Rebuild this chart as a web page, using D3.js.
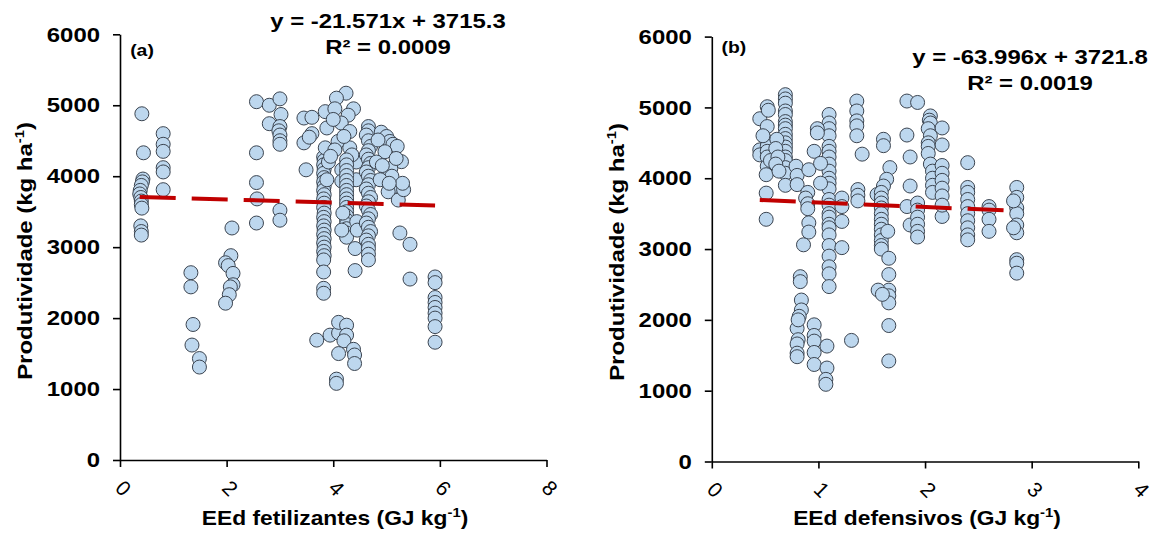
<!DOCTYPE html>
<html>
<head>
<meta charset="utf-8">
<script src="https://cdn.jsdelivr.net/npm/d3@7"></script>
<style>
body { margin: 0; background: #fff; }
svg text { font-family: Arial, "Liberation Sans", sans-serif; fill: #000; }
</style>
</head>
<body>
<svg id="chart" width="1155" height="537"></svg>
<script>
// y ticks shared by both panels
const yTicks = [0, 1000, 2000, 3000, 4000, 5000, 6000];
const fertTicks = [0, 2, 4, 6, 8];
const defTicks = [0, 1, 2, 3, 4];

// (a) EEd fertilizantes vs produtividade, [x, y]
const fertPoints = [
  [0.41,4880],[0.44,4330],[0.43,3960],[0.42,3920],[0.40,3870],[0.38,3800],[0.37,3750],[0.39,3700],
  [0.40,3650],[0.40,3600],[0.41,3550],[0.39,3300],[0.40,3220],[0.40,3170],
  [0.81,4600],[0.81,4450],[0.81,4350],[0.81,4120],[0.81,4060],[0.81,3810],
  [1.33,2640],[1.33,2440],[1.37,1910],[1.35,1620],[1.49,1430],[1.49,1310],
  [2.10,3270],[2.08,2880],[1.98,2780],[2.03,2740],[2.12,2630],[2.12,2470],[2.07,2440],[2.05,2330],[1.98,2210],
  [2.56,5050],[2.56,4330],[2.56,3910],[2.57,3680],[2.56,3340],[2.80,5000],[2.80,4740],
  [3.00,5090],[3.02,4870],[3.00,4700],[2.98,4640],[3.00,4580],[3.00,4500],[3.00,4450],[3.00,3520],[3.00,3380],
  [3.45,4820],[3.60,4830],[3.45,4470],[3.60,4600],[3.49,4090],[3.55,4550],
  [3.82,4270],[3.83,4220],[3.82,4160],[3.83,4100],[3.82,4040],[3.83,3980],[3.82,3920],[3.83,3860],
  [3.82,3800],[3.83,3740],[3.82,3680],[3.83,3620],[3.82,3560],[3.83,3480],[3.82,3420],[3.83,3360],
  [3.82,3300],[3.83,3240],[3.82,3180],[3.83,3120],[3.82,3060],[3.83,3000],[3.82,2940],[3.83,2880],
  [3.82,2820],[3.82,2650],[3.82,2420],[3.82,2350],
  [4.24,5170],[4.06,5100],[4.38,4950],[3.85,4910],[4.03,4950],[4.28,4860],[4.15,4750],[3.88,4680],
  [4.31,4630],[4.09,4490],[3.85,4400],[4.31,4400],[4.03,4370],[4.43,4200],[3.91,4200],[4.16,4090],
  [3.88,3950],[4.16,3930],[4.43,3950],[4.00,4800],[4.20,4560],[3.95,4280],[4.35,4300],
  [4.25,4230],[4.25,4160],[4.25,4080],[4.25,4010],[4.25,3940],[4.25,3870],[4.25,3800],[4.25,3740],
  [4.25,3680],[4.25,3620],[4.25,3560],[4.25,3500],[4.25,3440],[4.25,3380],[4.25,3320],[4.25,3260],
  [4.25,3200],[4.25,3140],[4.18,3480],[4.16,3240],
  [4.44,3360],[4.41,2980],[4.41,2670],[4.45,3240],
  [4.66,4700],[4.66,4640],[4.62,4580],[4.66,4500],[4.70,4420],[4.66,4360],[4.62,4300],[4.66,4240],
  [4.70,4180],[4.66,4120],[4.62,4060],[4.66,4000],[4.70,3940],[4.66,3880],[4.62,3820],[4.66,3760],
  [4.70,3700],[4.66,3640],[4.62,3580],[4.66,3520],[4.70,3460],[4.66,3400],[4.62,3340],[4.66,3280],
  [4.70,3220],[4.66,3160],[4.62,3100],[4.66,3040],[4.66,2980],[4.66,2900],[4.66,2820],
  [4.90,4620],[5.00,4560],[5.06,4490],[4.84,4510],[5.12,4450],[5.20,4420],[4.97,4345],[5.28,4205],
  [4.81,4200],[5.08,4110],[4.97,3993],[5.25,3852],[5.13,3852],[5.03,3780],[5.22,3664],[5.32,3810],
  [5.18,4250],[4.92,4150],[5.10,4000],[5.30,3900],[4.88,3950],[5.05,3900],
  [5.25,3200],[5.44,3040],[5.44,2550],
  [5.91,2580],[5.91,2500],[5.91,2290],[5.91,2220],[5.91,2150],[5.91,2070],[5.91,2000],[5.91,1880],[5.91,1660],
  [3.69,1690],[3.94,1760],[4.10,1790],[4.10,1940],[4.25,1900],[4.25,1760],[4.20,1680],[4.10,1500],
  [4.38,1560],[4.40,1480],[4.40,1360],[4.06,1140],[4.06,1080]
];

// (b) EEd defensivos vs produtividade, [x, y]
const defPoints = [
  [0.45,4840],[0.52,5010],[0.53,4960],[0.52,4730],[0.45,4400],[0.45,4330],[0.52,4520],[0.52,4450],
  [0.52,4380],[0.52,4300],[0.52,4170],[0.51,4050],[0.51,3790],[0.51,3420],[0.55,4250],[0.48,4600],
  [0.69,5180],[0.69,5120],[0.69,5060],[0.69,4950],[0.69,4900],[0.69,4800],[0.69,4750],[0.69,4700],
  [0.69,4620],[0.69,4560],[0.69,4500],[0.69,4440],[0.69,4380],[0.69,4300],[0.69,4250],[0.69,4150],
  [0.69,4070],[0.69,3900],
  [0.61,4550],[0.60,4420],[0.62,4300],[0.60,4200],[0.63,4100],
  [0.79,4170],[0.80,4040],[0.80,3910],[0.91,4120],[0.90,3800],[0.88,3720],[0.90,3640],[0.90,3570],
  [0.91,3370],[0.91,3240],[0.86,3060],
  [0.83,2610],[0.83,2540],[0.84,2280],[0.84,2140],[0.80,1880],[0.81,1720],[0.80,1660],[0.80,1530],
  [0.80,1480],[0.82,2050],[0.81,2000],
  [0.96,1930],[0.96,1780],[0.96,1700],[0.96,1540],[0.96,1370],
  [1.08,1630],[1.08,1320],[1.07,1160],[1.07,1090],
  [1.10,4900],[1.10,4780],[1.10,4700],[1.10,4600],[1.10,4450],[1.10,4380],[1.10,4300],[1.10,4200],
  [1.10,4100],[1.10,4000],[1.10,3930],[1.10,3850],[1.10,3700],[1.10,3620],[1.10,3500],[1.10,3450],
  [1.10,3350],[1.10,3300],[1.10,3200],[1.10,3050],[1.10,2900],[1.10,2750],[1.10,2650],[1.10,2470],
  [0.99,4700],[0.99,4640],[0.96,4380],[1.02,4210],[1.02,3930],
  [1.22,3720],[1.22,3390],[1.22,3020],[1.22,3600],
  [1.36,5090],[1.36,4950],[1.36,4810],[1.36,4740],[1.36,4600],[1.41,4340],[1.37,3840],[1.37,3760],[1.37,3680],
  [1.31,1710],
  [1.61,4550],[1.61,4460],[1.67,4150],[1.64,3985],[1.61,3890],[1.55,3770],
  [1.59,3800],[1.59,3720],[1.59,3650],[1.59,3580],[1.59,3500],[1.59,3420],[1.59,3350],[1.59,3280],
  [1.59,3200],[1.59,3120],[1.59,3050],[1.59,3000],
  [1.65,3250],[1.66,2870],[1.66,2640],[1.66,2420],[1.66,2340],[1.66,2240],[1.56,2420],[1.60,2360],
  [1.66,1920],[1.66,1420],
  [1.83,5090],[1.93,5070],[1.83,4610],[1.86,4300],[1.86,3890],[1.83,3600],[1.86,3340],[1.93,3650],
  [1.93,3550],[1.93,3450],[1.93,3350],[1.93,3250],[1.93,3170],
  [2.05,4880],[2.04,4820],[2.05,4780],[2.03,4700],[2.05,4600],[2.03,4500],[2.03,4450],[2.03,4350],
  [2.05,4200],[2.07,4100],[2.07,4000],[2.07,3900],[2.07,3800],
  [2.16,4710],[2.16,4470],[2.16,4180],[2.16,4070],[2.16,3970],[2.16,3860],[2.16,3460],[2.16,3750],[2.16,3620],
  [2.40,4220],[2.40,3870],[2.40,3800],[2.40,3700],[2.40,3600],[2.40,3500],[2.40,3400],[2.40,3300],
  [2.40,3200],[2.40,3130],
  [2.60,3600],[2.60,3550],[2.60,3420],[2.60,3250],
  [2.86,3870],[2.86,3730],[2.86,3580],[2.86,3500],[2.86,3340],[2.86,3230],[2.86,2850],[2.86,2800],
  [2.86,2660],[2.83,3680],[2.83,3300]
];

// linear trendline coefficients (from the chart labels)
const fertSlope = -21.571, fertIntercept = 3715.3, fertR2 = "0.0009";
const defSlope = -63.996, defIntercept = 3721.8, defR2 = "0.0019";

const svg = d3.select("#chart");
const WIDE = 1.14; // the original's lettering is drawn a bit wider than Arial

// text widened along its own direction
function wideText(parent, x, y, rot, size, bold) {
  return parent.append("text")
    .attr("transform", `translate(${x},${y}) rotate(${rot}) scale(${WIDE},1)`)
    .attr("text-anchor", "middle")
    .style("font-size", size + "px")
    .style("font-weight", bold ? "bold" : "normal");
}

function addUnit(t, before) {
  t.append("tspan").text(before);
  t.append("tspan").attr("dy", -8).style("font-size", "13px").text("-1");
  t.append("tspan").attr("dy", 8).text(")");
}

function drawPanel(p) {
  const x = d3.scaleLinear().domain([0, p.xMax]).range([p.left, p.right]);
  const y = d3.scaleLinear().domain([0, 6000]).range([p.bottom, p.top]);
  const g = svg.append("g");

  // y axis
  const ya = g.append("g")
    .attr("transform", `translate(${p.left},0)`)
    .call(d3.axisLeft(y).tickValues(yTicks).tickFormat(d3.format("d")).tickSize(7).tickSizeOuter(0));
  ya.selectAll("text")
    .attr("x", 0)
    .attr("transform", `translate(-20,0) scale(${WIDE},1)`)
    .style("font-size", "21px").style("font-weight", "bold");
  // x axis
  const xa = g.append("g")
    .attr("transform", `translate(0,${p.bottom})`)
    .call(d3.axisBottom(x).tickValues(p.xTicks).tickFormat(d3.format("d")).tickSize(7).tickSizeOuter(0));
  xa.selectAll("text")
    .attr("y", null).attr("dy", null)
    .attr("text-anchor", "middle")
    .attr("dominant-baseline", "central")
    .attr("transform", "translate(3,28) rotate(45)")
    .style("font-size", "21px");
  g.selectAll(".domain").attr("stroke", "#000").attr("stroke-width", 1.6);
  g.selectAll(".tick line").attr("stroke", "#000").attr("stroke-width", 1.6);

  // points
  g.selectAll("circle")
    .data(p.data)
    .enter()
    .append("circle")
    .attr("cx", d => x(d[0]))
    .attr("cy", d => y(d[1]))
    .attr("r", 7)
    .attr("fill", "#BDD7EE")
    .attr("stroke", "#3b4450")
    .attr("stroke-width", 1);

  // dashed trendline over the data range
  const ext = d3.extent(p.data, d => d[0]);
  g.append("line")
    .attr("x1", x(ext[0])).attr("y1", y(p.slope * ext[0] + p.intercept))
    .attr("x2", x(ext[1])).attr("y2", y(p.slope * ext[1] + p.intercept))
    .attr("stroke", "#C00000")
    .attr("stroke-width", 4)
    .attr("stroke-dasharray", "36,16");

  // equation
  const sign = p.slope < 0 ? "-" : "";
  wideText(g, p.eqX, p.eqY, 0, 21, true)
    .text(`y = ${sign}${Math.abs(p.slope).toFixed(3)}x + ${p.intercept.toFixed(1)}`);
  wideText(g, p.eqX, p.eqY + 26, 0, 21, true).text(`R² = ${p.r2}`);

  // panel letter
  wideText(g, p.left + 22, p.letterY, 0, 17, true).text(p.letter);

  // axis titles
  addUnit(wideText(g, p.yTitleX, p.yTitleY, -90, 21, true), "Produtividade (kg ha");
  addUnit(wideText(g, p.xTitleX, 525, 0, 20, true), p.xTitle + " (GJ kg");
}

drawPanel({
  data: fertPoints, xMax: 8, xTicks: fertTicks,
  left: 120, right: 546.5, top: 34.3, bottom: 460,
  slope: fertSlope, intercept: fertIntercept, r2: fertR2,
  eqX: 388, eqY: 28, letter: "(a)", letterY: 56,
  yTitleX: 32, yTitleY: 251, xTitleX: 335, xTitle: "EEd fetilizantes"
});
drawPanel({
  data: defPoints, xMax: 4, xTicks: defTicks,
  left: 711.8, right: 1138.3, top: 36.6, bottom: 461.5,
  slope: defSlope, intercept: defIntercept, r2: defR2,
  eqX: 1030, eqY: 64, letter: "(b)", letterY: 53,
  yTitleX: 624, yTitleY: 252, xTitleX: 927, xTitle: "EEd defensivos"
});
</script>
</body>
</html>
